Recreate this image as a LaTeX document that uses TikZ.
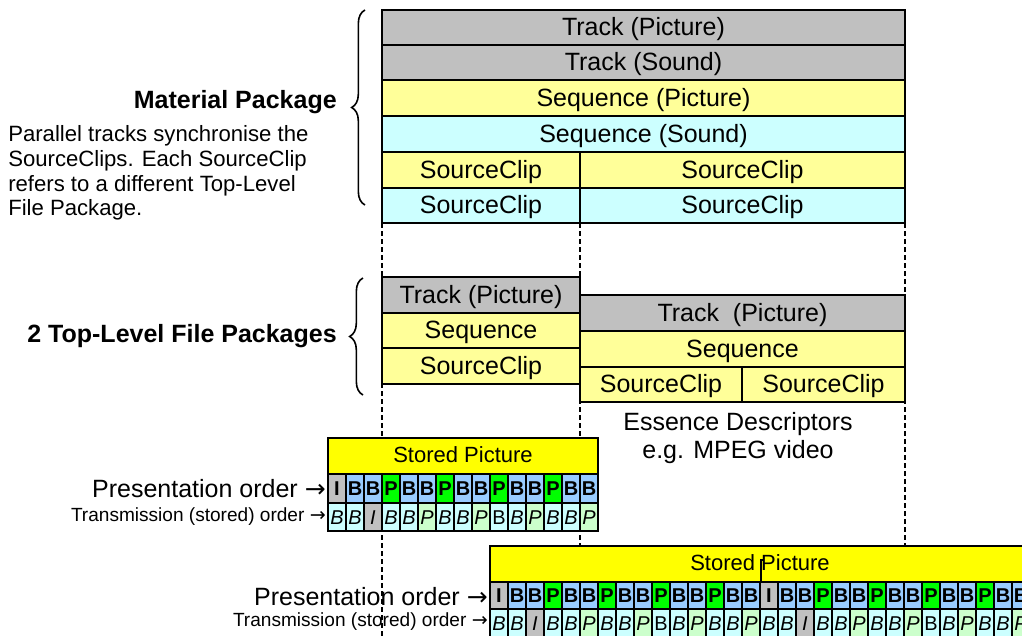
\documentclass[tikz,border=0pt]{standalone}
\usepackage{fontspec}
\setmainfont{Liberation Sans}
\newfontfamily\arrowfont{DejaVu Sans}
\usetikzlibrary{decorations.pathreplacing}
\definecolor{boxgray}{HTML}{C0C0C0}
\definecolor{lyellow}{HTML}{FFFF99}
\definecolor{lcyan}{HTML}{CCFFFF}
\definecolor{syellow}{HTML}{FFFF00}
\definecolor{fblue}{HTML}{99CCFF}
\definecolor{fgreen}{HTML}{00FF00}
\definecolor{tgreen}{HTML}{CCFFCC}
\newcommand\drawgop[6]{%
  \foreach \l/\c [count=\i from 0] in {I/boxgray,B/fblue,B/fblue,P/fgreen,B/fblue,B/fblue,P/fgreen,B/fblue,B/fblue,P/fgreen,B/fblue,B/fblue,P/fgreen,B/fblue,B/fblue}
    \node[pframe, fill=\c, minimum height={#5*0.75pt}] (#1p\i) at ({#2+9+18*\i},#3) {\l};
  \foreach \l/\c/\sh [count=\i from 0] in {B/lcyan/\itshape,B/lcyan/\itshape,I/boxgray/\itshape,B/lcyan/\itshape,B/lcyan/\itshape,P/tgreen/\itshape,B/lcyan/\itshape,B/lcyan/\itshape,P/tgreen/\itshape,B/lcyan/\upshape,B/lcyan/\itshape,P/tgreen/\itshape,B/lcyan/\itshape,B/lcyan/\itshape,P/tgreen/\itshape}
    \node[tframe, fill=\c, minimum height={#6*0.75pt}] (#1t\i) at ({#2+9+18*\i},#4) {\sh\l};
}
\begin{document}
\begin{tikzpicture}[x=0.75pt,y=-0.75pt,
  sz/.style 2 args={minimum width={#1*0.75pt}, minimum height={#2*0.75pt}},
  mbox/.style={draw=black, line width=1.5pt, inner sep=0pt, text height=14pt, text depth=2pt, font=\fontsize{18.75}{22}\selectfont},
  sbox/.style={draw=black, line width=1.2pt, inner sep=0pt, fill=syellow, text height=12pt, text depth=2pt, font=\fontsize{16.5}{20}\selectfont},
  pframe/.style={draw=black, line width=1pt, inner sep=0pt, minimum width=13.5pt, text height=11pt, text depth=0pt, font=\fontsize{15}{17}\selectfont\bfseries},
  tframe/.style={draw=black, line width=1pt, inner sep=0pt, minimum width=13.5pt, text height=11pt, text depth=0pt, font=\fontsize{15}{17}\selectfont},
  guide/.style={dashed, dash pattern=on 3.5pt off 2.5pt, line width=0.8pt},
  bigtxt/.style={inner sep=0pt, font=\fontsize{18.75}{22}\selectfont},
  smalltxt/.style={inner sep=0pt, font=\fontsize{14.3}{16}\selectfont},
  paratxt/.style={inner sep=0pt, anchor=base west, font=\fontsize{16.6}{19}\selectfont},
  brc/.style={decorate, decoration={brace, amplitude=10pt}, line width=1.2pt}]
\useasboundingbox (0,0) rectangle (1022,636);
\clip (0,0) rectangle (1022,636);
\fill[white] (0,0) rectangle (1022,636);

% dashed guide lines
\coordinate (d1a) at (382,223); \coordinate (d1b) at (382,640);
\coordinate (d2a) at (580,223); \coordinate (d2b) at (580,640);
\coordinate (d3a) at (905,223); \coordinate (d3b) at (905,640);
\draw[guide] (d1a) -- (d1b);
\draw[guide] (d2a) -- (d2b);
\draw[guide] (d3a) -- (d3b);

% Material package
\node[mbox, fill=boxgray, sz={523}{35}] (mtp) at (643.5,27.5) {Track (Picture)};
\node[mbox, fill=boxgray, sz={523}{35}] (mts) at (643.5,62.5) {Track (Sound)};
\node[mbox, fill=lyellow, sz={523}{36}] (msp) at (643.5,98) {Sequence (Picture)};
\node[mbox, fill=lcyan, sz={523}{36}] (mss) at (643.5,134) {Sequence (Sound)};
\node[mbox, fill=lyellow, sz={198}{36}] (mc1) at (481,170) {SourceClip};
\node[mbox, fill=lyellow, sz={325}{36}] (mc2) at (742.5,170) {SourceClip};
\node[mbox, fill=lcyan, sz={198}{35}] (mc3) at (481,205.5) {SourceClip};
\node[mbox, fill=lcyan, sz={325}{35}] (mc4) at (742.5,205.5) {SourceClip};

\coordinate (mbrB) at (365,205); \coordinate (mbrT) at (365,10);
\draw[brc] (mbrB) -- (mbrT);
\node[anchor=east, inner sep=0pt, font=\fontsize{18.75}{22}\selectfont\bfseries] (mptitle) at (337,102) {Material Package};
\node[paratxt] (par1) at (8,141) {Parallel tracks synchronise the};
\node[paratxt] (par2) at (8,166) {SourceClips. Each SourceClip};
\node[paratxt] (par3) at (8,191) {refers to a different Top-Level};
\node[paratxt] (par4) at (8,215.5) {File Package.};

% File packages
\node[mbox, fill=boxgray, sz={198}{36}] (f1t) at (481,295) {Track (Picture)};
\node[mbox, fill=lyellow, sz={198}{35}] (f1s) at (481,330.5) {Sequence};
\node[mbox, fill=lyellow, sz={198}{36}] (f1c) at (481,366) {SourceClip};
\node[mbox, fill=boxgray, sz={325}{36}] (f2t) at (742.5,313) {Track\ \ (Picture)};
\node[mbox, fill=lyellow, sz={325}{36}] (f2s) at (742.5,349) {Sequence};
\node[mbox, fill=lyellow, sz={162}{35}] (f2c1) at (661,384.5) {SourceClip};
\node[mbox, fill=lyellow, sz={163}{35}] (f2c2) at (823.5,384.5) {SourceClip};

\coordinate (fbrB) at (363,395); \coordinate (fbrT) at (363,278);
\draw[brc] (fbrB) -- (fbrT);
\node[anchor=east, inner sep=0pt, font=\fontsize{18.75}{22}\selectfont\bfseries] (fptitle) at (337,336) {2 Top-Level File Packages};

\node[bigtxt] (ed1) at (738,424) {Essence Descriptors};
\node[bigtxt] (ed2) at (738,452) {e.g. MPEG video};

% first stored picture strip
\node[sbox, sz={270}{36}] (st1) at (463,456) {Stored Picture};
\drawgop{a}{328}{488.5}{517}{29}{28}
\node[bigtxt, anchor=east] (po1) at (326,489) {Presentation order {\arrowfont →}};
\node[smalltxt, anchor=east] (to1) at (326,517) {Transmission (stored) order {\arrowfont →}};

% second stored picture strip
\node[sbox, sz={540}{36}] (st2) at (760,564) {Stored Picture};
\coordinate (k0) at (764,560); \coordinate (k1) at (761,560); \coordinate (k2) at (761,582);
\draw[line width=1pt] (k0) -- (k1) -- (k2);
\drawgop{b}{490}{595.5}{623}{27}{28}
\drawgop{c}{760}{595.5}{623}{27}{28}
\node[bigtxt, anchor=east] (po2) at (488,597) {Presentation order {\arrowfont →}};
\node[smalltxt, anchor=east] (to2) at (488,622) {Transmission (stored) order {\arrowfont →}};
\end{tikzpicture}
\end{document}
